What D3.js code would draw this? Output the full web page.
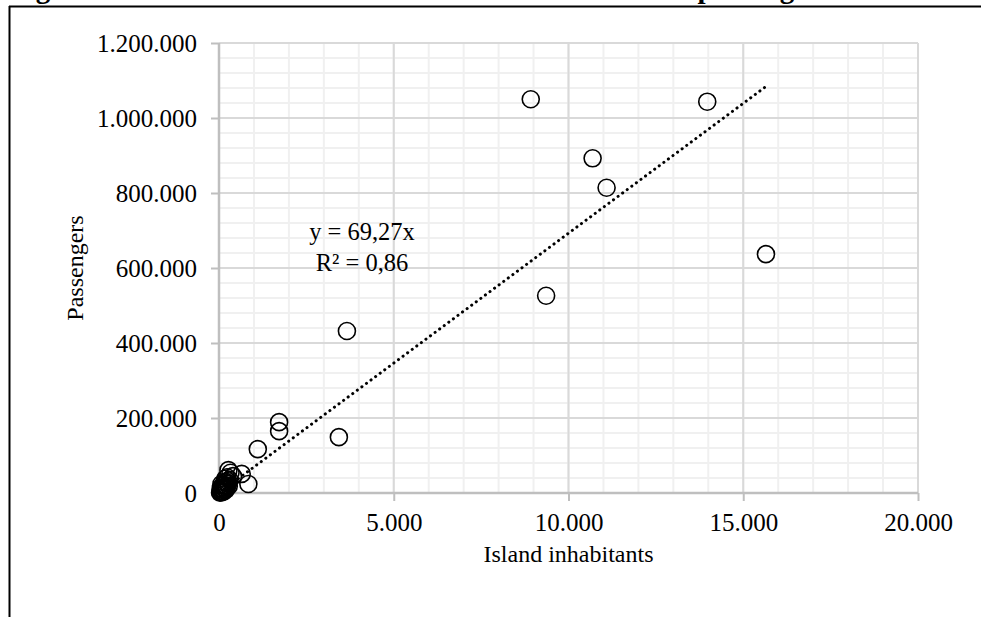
<!DOCTYPE html>
<html>
<head>
<meta charset="utf-8">
<script src="https://cdn.jsdelivr.net/npm/d3@7"></script>
<style>
	body { margin: 0; background: white; }
	svg { display: block; }
	text { font-family: "Liberation Serif", "Times New Roman", serif; fill: black; }
</style>
</head>
<body>
<svg id="chart"></svg>
<script>
// island inhabitants (x) and yearly passengers (y)
var inhabitants = [8920, 13970, 10690, 11090, 15650, 9360, 3660, 3430, 1720, 1720, 1110, 840, 650,
	270, 330, 400, 230, 300, 190, 260, 150, 210, 120, 170, 90, 140, 60, 110, 40, 80, 30, 130, 200, 100, 50,
	180, 240, 160, 220, 70, 280];
var passengers = [1050000, 1043500, 892500, 814000, 637000, 526000, 432000, 149000, 189000, 165000, 117000, 24000, 51000,
	61000, 54000, 45000, 42000, 35000, 30000, 25000, 22000, 18000, 15000, 12000, 10000, 8000, 6000, 5000, 3000, 2000, 1000, 3500, 9000, 20000, 13000,
	38000, 32000, 28000, 14000, 24000, 19000];
var xTicks = [0, 5000, 10000, 15000, 20000];
var yTicks = [0, 200000, 400000, 600000, 800000, 1000000, 1200000];
var trendSlope = 69.27;
var trendR2 = 0.86;

var width = 981,
	height = 617,
	margin = {left: 219, right: 63, top: 43, bottom: 124};	// plot area 219..918 x 43..493

var nl = d3.formatLocale({decimal: ",", thousands: ".", grouping: [3], currency: ["", ""]});
var fmt = nl.format(",");

var svg = d3.select("#chart")
	.attr("width", width)
	.attr("height", height);

var xScale = d3.scaleLinear()
	.domain([0, 20000])
	.range([margin.left, width - margin.right]);
var yScale = d3.scaleLinear()
	.domain([0, 1200000])
	.range([height - margin.bottom, margin.top]);

// frame and the caption above it (cut off by the page edge)
svg.append("line")
	.attr("x1", 9).attr("x2", width)
	.attr("y1", 6.5).attr("y2", 6.5)
	.attr("stroke", "black").attr("stroke-width", 2);
svg.append("line")
	.attr("x1", 9.5).attr("x2", 9.5)
	.attr("y1", 6).attr("y2", height)
	.attr("stroke", "black").attr("stroke-width", 2);
svg.append("text")
	.attr("x", 10)
	.attr("y", -2)
	.attr("font-weight", "bold")
	.style("font-size", "29px")
	.text("Figure 4: Relation between island inhabitants and total passengers");

// minor grid
var grid = svg.append("g").attr("id", "grid");
grid.selectAll("line.vminor")
	.data(d3.range(0, 20001, 1000))
	.enter().append("line")
	.attr("class", "vminor")
	.attr("x1", function(d) { return xScale(d); })
	.attr("x2", function(d) { return xScale(d); })
	.attr("y1", yScale(0))
	.attr("y2", yScale(1200000))
	.attr("stroke", "#f0f0f0")
	.attr("stroke-width", 2);
grid.selectAll("line.hminor")
	.data(d3.range(0, 1200001, 40000))
	.enter().append("line")
	.attr("class", "hminor")
	.attr("x1", xScale(0))
	.attr("x2", xScale(20000))
	.attr("y1", function(d) { return yScale(d); })
	.attr("y2", function(d) { return yScale(d); })
	.attr("stroke", "#f0f0f0")
	.attr("stroke-width", 2);
// major grid
grid.selectAll("line.vmajor")
	.data(xTicks)
	.enter().append("line")
	.attr("class", "vmajor")
	.attr("x1", function(d) { return xScale(d); })
	.attr("x2", function(d) { return xScale(d); })
	.attr("y1", yScale(0))
	.attr("y2", yScale(1200000))
	.attr("stroke", "#d9d9d9")
	.attr("stroke-width", 2);
grid.selectAll("line.hmajor")
	.data(yTicks)
	.enter().append("line")
	.attr("class", "hmajor")
	.attr("x1", xScale(0))
	.attr("x2", xScale(20000))
	.attr("y1", function(d) { return yScale(d); })
	.attr("y2", function(d) { return yScale(d); })
	.attr("stroke", "#d9d9d9")
	.attr("stroke-width", 2);

// axes
var xAxis = d3.axisBottom(xScale).tickValues(xTicks).tickFormat(fmt).tickSize(8).tickPadding(12);
var yAxis = d3.axisLeft(yScale).tickValues(yTicks).tickFormat(fmt).tickSize(8).tickPadding(14);

svg.append("g")
	.attr("class", "axis")
	.attr("transform", "translate(0," + yScale(0) + ")")
	.call(xAxis);
svg.append("g")
	.attr("class", "axis")
	.attr("transform", "translate(" + xScale(0) + ",0)")
	.call(yAxis);
svg.selectAll(".axis path").remove();
svg.selectAll(".axis line").attr("stroke", "#bfbfbf").attr("stroke-width", 2);
svg.selectAll(".axis text")
	.style("font-family", "'Liberation Serif', serif")
	.style("font-size", "25px")
	.attr("fill", "black");
svg.append("line")
	.attr("x1", xScale(0)).attr("x2", xScale(20000))
	.attr("y1", yScale(0)).attr("y2", yScale(0))
	.attr("stroke", "#bfbfbf").attr("stroke-width", 2.5);
svg.append("line")
	.attr("x1", xScale(0)).attr("x2", xScale(0))
	.attr("y1", yScale(0)).attr("y2", yScale(1200000))
	.attr("stroke", "#bfbfbf").attr("stroke-width", 2.5);

// axis titles
svg.append("text")
	.attr("x", (xScale(0) + xScale(20000)) / 2)
	.attr("y", 562)
	.attr("text-anchor", "middle")
	.style("font-size", "24px")
	.text("Island inhabitants");
svg.append("text")
	.attr("transform", "translate(83," + (yScale(0) + yScale(1200000)) / 2 + ") rotate(-90)")
	.attr("text-anchor", "middle")
	.style("font-size", "24px")
	.text("Passengers");

// points
var points = inhabitants.map(function(x, i) { return {x: x, y: passengers[i]}; });
svg.append("g")
	.attr("id", "points")
	.selectAll("circle")
	.data(points)
	.enter().append("circle")
	.attr("cx", function(d) { return xScale(d.x); })
	.attr("cy", function(d) { return yScale(d.y); })
	.attr("r", 8.5)
	.attr("fill", "none")
	.attr("stroke", "black")
	.attr("stroke-width", 1.6);

// linear trend through origin
var xMin = d3.min(inhabitants), xMax = d3.max(inhabitants);
svg.append("line")
	.attr("x1", xScale(xMin)).attr("y1", yScale(trendSlope * xMin))
	.attr("x2", xScale(xMax)).attr("y2", yScale(trendSlope * xMax))
	.attr("stroke", "black")
	.attr("stroke-width", 3)
	.attr("stroke-linecap", "round")
	.attr("stroke-dasharray", "0.1 5.6");

var nf = nl.format(".2f");
var eq = svg.append("text")
	.attr("text-anchor", "middle")
	.style("font-size", "24.5px");
eq.append("tspan").attr("x", 362).attr("y", 240).text("y = " + nf(trendSlope) + "x");
eq.append("tspan").attr("x", 362).attr("y", 271).text("R² = " + nf(trendR2));
</script>
</body>
</html>
